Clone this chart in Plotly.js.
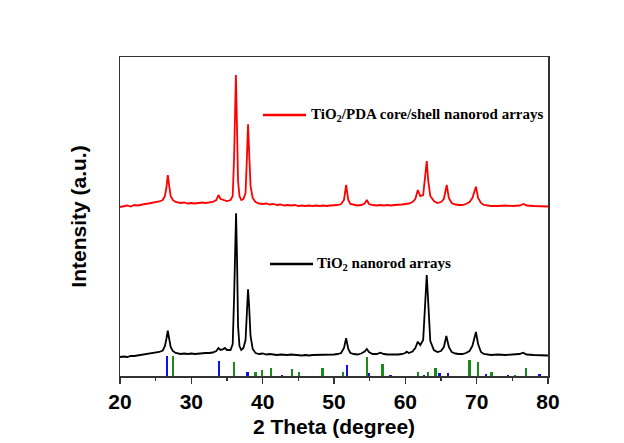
<!DOCTYPE html>
<html>
<head>
<meta charset="utf-8">
<script src="https://cdn.plot.ly/plotly-3.0.1.min.js"></script>
<style>html,body{margin:0;padding:0;background:#fff}#chart{width:624px;height:443px}</style>
</head>
<body>
<div id="chart"></div>
<script>
// TiO2/PDA core/shell nanorod arrays (red)
const pdaTheta = [20.0,20.5,21.0,21.5,22.0,22.5,23.0,23.5,24.0,24.5,25.0,25.5,26.0,26.3,26.5,26.7,26.9,27.1,27.4,27.8,28.5,29.0,29.5,30.0,30.5,31.0,31.5,32.0,32.5,33.0,33.5,33.8,34.1,34.5,35.0,35.5,35.8,36.0,36.1,36.25,36.4,36.55,36.75,37.0,37.3,37.6,37.8,37.95,38.1,38.3,38.6,39.0,39.5,40.0,40.5,41.0,41.5,42.0,42.5,43.0,43.5,44.0,44.5,45.0,45.5,46.0,46.5,47.0,47.5,48.0,48.5,49.0,49.5,50.0,50.5,51.0,51.4,51.7,52.0,52.3,52.8,53.3,53.8,54.3,54.6,54.9,55.4,56.0,56.5,57.0,57.5,58.0,58.5,59.0,59.5,60.0,60.5,61.0,61.4,61.75,62.1,62.5,62.8,63.0,63.2,63.5,64.0,64.5,65.0,65.4,65.8,66.1,66.5,67.0,67.5,68.0,68.5,69.0,69.4,69.9,70.2,70.6,71.0,71.5,72.0,73.0,74.0,75.0,76.0,76.6,77.0,78.0,79.0,80.0];
const pdaInt = [169,170,170.5,169.5,171,170.5,171.5,172,172.5,173,173.5,174.5,176,180,188,201,190,180,176,174,173,173.5,172.5,173,172.5,173,173.5,173,173.5,174,176,181,177,176,175,176,180,220,270,301,250,195,180,176,177,183,220,251.7,225,190,178,174,172.5,172,172.5,171.5,172,171,171.5,170.5,171,170.5,171,170,170.5,170,170.5,170,170.5,170,170.5,170,170.5,170.5,171,172,176,191,176,172,171,170.5,171,172.5,176,172,171,170.5,171,170.5,171,170.5,171,171,171.5,172,172.5,174,177,186,180,181,200,215,196,180,175,173,174,177,191,178,173,171.5,171,171,172,174,178,189.3,178,173,171,170.5,170,170,170.5,170,170.5,172,170.5,170,169.5,169.5];

// TiO2 nanorod arrays (black)
const tioTheta = [20.0,20.5,21.0,21.5,22.0,22.5,23.0,23.5,24.0,24.5,25.0,25.5,26.0,26.3,26.5,26.7,26.9,27.1,27.4,27.8,28.5,29.0,29.5,30.0,30.5,31.0,31.5,32.0,32.5,33.0,33.5,33.8,34.1,34.4,34.7,35.0,35.5,35.8,36.0,36.1,36.27,36.4,36.55,36.75,37.0,37.3,37.6,37.8,37.95,38.1,38.3,38.6,39.0,39.5,40.0,40.5,41.0,41.5,42.0,42.5,43.0,43.5,44.0,44.5,45.0,45.5,46.0,46.5,47.0,47.5,48.0,48.5,49.0,49.5,50.0,50.5,51.0,51.4,51.7,52.0,52.3,52.8,53.3,53.8,54.3,54.6,54.9,55.4,56.0,56.5,57.0,57.5,58.0,58.5,59.0,59.5,60.0,60.2,60.5,61.0,61.4,61.75,62.1,62.5,62.8,63.0,63.2,63.5,64.0,64.5,65.0,65.4,65.75,66.1,66.5,67.0,67.5,68.0,68.5,69.0,69.4,69.9,70.2,70.6,71.0,71.5,72.0,73.0,74.0,75.0,76.0,76.5,77.0,78.0,79.0,80.0];
const tioInt = [19,19.5,19,20,20,20.5,21,21.5,22,22.5,23,24,25.5,30,37,45.3,37,29,25,23,22,22.5,22,22.5,22,22.5,22.5,23,23,23.5,25,28,26,26.5,28,26,26,32,80,130,162.7,120,50,30,26,28,36,65,86.7,70,40,27,23,22,22.5,21.5,22,21.5,21,21.5,21,21,21.5,21,21,20.5,21,20.5,21,21,21,21.5,21,21.5,21.5,22,23,28,37.7,27,23,22,21.5,22.5,24.5,27,24,22,22,23.3,22,21.5,21.5,21,21.5,22,23,24.3,23,24.5,28,34.3,31,36,80,101,75,35,26,24,25,29,40,29,24,22.5,22,22,23,25,30,44,32,24,22,21.5,21,21.5,21,21.5,22,23.3,21.5,21,20.5,20.5];

// Reference patterns (sticks)
const blueTheta = [26.6,33.9,37.9,42.7,51.8,54.9,57.9,62.6,64.8,66.0,71.3,74.4,78.8];
const blueInt = [20,15,4.3,1,11,2.7,1.5,1,2.7,3.3,1.7,0.8,2.3];
const greenTheta = [27.45,36.0,39.0,39.9,41.2,44.1,45.1,48.4,51.3,54.6,56.8,61.8,63.2,64.2,69.0,70.15,72.1,75.4,76.9];
const greenInt = [20,14,4,6,8.3,7,4,8,4,19.5,12,4,4,8,16,14,4,1.3,8];

const xTicks = [20,30,40,50,60,70,80];
const labelPDA = 'TiO<sub>2</sub>/PDA core/shell nanorod arrays';
const labelTiO2 = 'TiO<sub>2</sub> nanorod arrays';

const traces = [
  {type:'bar', x:blueTheta, y:blueInt, width:blueTheta.map(()=>0.34), marker:{color:'#1010e0', line:{width:0}}, showlegend:false, hoverinfo:'skip'},
  {type:'bar', x:greenTheta, y:greenInt, width:greenTheta.map(()=>0.34), marker:{color:'#1a8a1a', line:{width:0}}, showlegend:false, hoverinfo:'skip'},
  {type:'scatter', mode:'lines', x:tioTheta, y:tioInt, line:{color:'#000000', width:1.8}, showlegend:false},
  {type:'scatter', mode:'lines', x:pdaTheta, y:pdaInt, line:{color:'#ff0000', width:1.8}, showlegend:false}
];

const lblFont = {family:'Liberation Serif, Times New Roman, serif', size:15, color:'#000', weight:'bold'};

const layout = {
  width:624, height:443,
  margin:{l:120, r:76, t:57, b:67, pad:0},
  paper_bgcolor:'#ffffff', plot_bgcolor:'#ffffff',
  barmode:'overlay', bargap:0,
  showlegend:false,
  xaxis:{
    range:[20,80], tickvals:xTicks, ticktext:xTicks.map(String),
    ticks:'outside', ticklen:6, tickwidth:1.2, tickcolor:'#333',
    minor:{dtick:5, ticks:'outside', ticklen:3.5, tickwidth:1.2, tickcolor:'#333'},
    showline:true, linecolor:'#333', linewidth:1.5, mirror:true,
    showgrid:false, zeroline:false,
    tickfont:{family:'Liberation Sans, Arial, sans-serif', size:21, color:'#000', weight:'bold'},
    title:{text:'2 Theta (degree)', font:{family:'Liberation Sans, Arial, sans-serif', size:21, color:'#000', weight:'bold'}, standoff:7}
  },
  yaxis:{
    range:[0,319], showticklabels:false, ticks:'',
    showline:true, linecolor:'#333', linewidth:1.5, mirror:true,
    showgrid:false, zeroline:false,
    title:{text:'Intensity (a.u.)', font:{family:'Liberation Sans, Arial, sans-serif', size:21, color:'#000', weight:'bold'}, standoff:26}
  },
  shapes:[
    {type:'line', xref:'paper', yref:'paper', x0:(263-120)/428, x1:(306-120)/428, y0:(376-115)/319, y1:(376-115)/319, line:{color:'#ff0000', width:2.5}},
    {type:'line', xref:'paper', yref:'paper', x0:(270-120)/428, x1:(313-120)/428, y0:(376-264)/319, y1:(376-264)/319, line:{color:'#000000', width:2.5}}
  ],
  annotations:[
    {xref:'paper', yref:'paper', x:(309-120)/428, y:(376-115)/319, xanchor:'left', yanchor:'middle', text:labelPDA, showarrow:false, font:lblFont},
    {xref:'paper', yref:'paper', x:(315-120)/428, y:(376-264)/319, xanchor:'left', yanchor:'middle', text:labelTiO2, showarrow:false, font:lblFont}
  ]
};

Plotly.newPlot('chart', traces, layout, {displayModeBar:false, staticPlot:true});
</script>
</body>
</html>
